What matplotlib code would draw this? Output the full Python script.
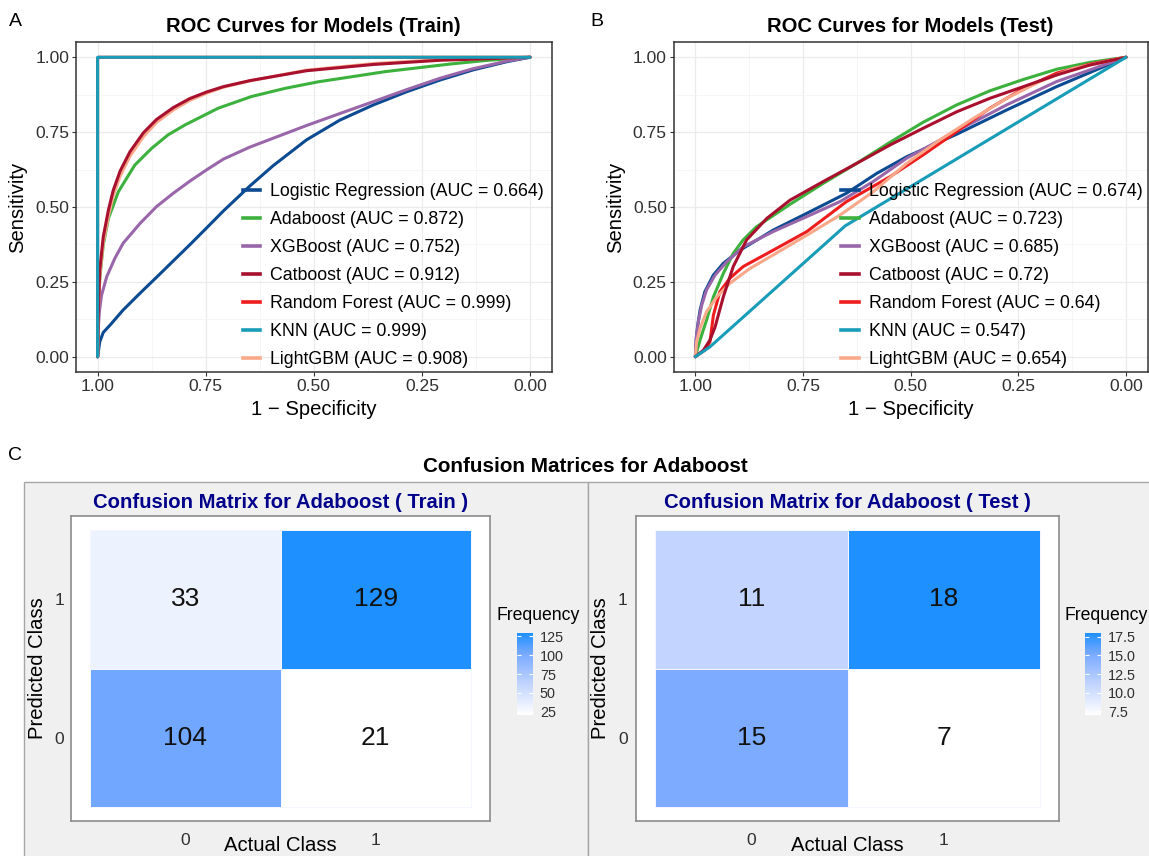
import numpy as np
import matplotlib; matplotlib.use("Agg")
import matplotlib.pyplot as plt
from matplotlib.colors import LinearSegmentedColormap, Normalize
from matplotlib.cm import ScalarMappable
from matplotlib.lines import Line2D
from matplotlib.patches import Rectangle

plt.rcParams.update({"font.family": ["Liberation Sans", "DejaVu Sans"],
    "axes.unicode_minus": True})

W, H = 1149, 856

MODELS = ["Logistic Regression", "Adaboost", "XGBoost", "Catboost",
          "Random Forest", "KNN", "LightGBM"]
COLORS = ["#0C4A92", "#3DB13D", "#9966AA", "#A8102E", "#EE1C1C", "#189CB8", "#F9A88A"]
TRAIN_AUC = [0.664, 0.872, 0.752, 0.912, 0.999, 0.999, 0.908]
TEST_AUC = [0.674, 0.723, 0.685, 0.72, 0.64, 0.547, 0.654]

# ROC points: specificity (axis reversed) and sensitivity
LR_TRAIN_SPEC = [1, 0.995, 0.987, 0.971, 0.941, 0.902, 0.864, 0.825, 0.786, 0.748,
                 0.709, 0.648, 0.594, 0.517, 0.440, 0.362, 0.285, 0.208, 0.131, 0.054, 0]
LR_TRAIN_SENS = [0, 0.050, 0.081, 0.106, 0.156, 0.212, 0.265, 0.320, 0.375, 0.430,
                 0.487, 0.570, 0.638, 0.724, 0.790, 0.841, 0.885, 0.924, 0.958, 0.985, 1]
XGB_TRAIN_SPEC = [1, 0.999, 0.996, 0.991, 0.979, 0.960, 0.941, 0.902, 0.864, 0.825,
                  0.786, 0.748, 0.709, 0.648, 0.517, 0.440, 0.362, 0.285, 0.208, 0.131,
                  0.054, 0]
XGB_TRAIN_SENS = [0, 0.084, 0.150, 0.205, 0.267, 0.329, 0.379, 0.445, 0.501, 0.546,
                  0.587, 0.624, 0.660, 0.700, 0.772, 0.812, 0.852, 0.892, 0.930, 0.962,
                  0.987, 1]
ADA_TRAIN_SPEC = [1, 0.998, 0.995, 0.987, 0.975, 0.952, 0.914, 0.875, 0.837, 0.798,
                  0.721, 0.644, 0.567, 0.490, 0.412, 0.335, 0.258, 0.181, 0.104, 0]
ADA_TRAIN_SENS = [0, 0.150, 0.262, 0.373, 0.462, 0.551, 0.640, 0.696, 0.741, 0.774,
                  0.830, 0.869, 0.896, 0.918, 0.935, 0.952, 0.965, 0.978, 0.989, 1]
CAT_TRAIN_SPEC = [1, 0.998, 0.995, 0.987, 0.975, 0.964, 0.948, 0.925, 0.894, 0.864,
                  0.825, 0.787, 0.748, 0.709, 0.648, 0.517, 0.362, 0.208, 0]
CAT_TRAIN_SENS = [0, 0.170, 0.290, 0.400, 0.490, 0.555, 0.620, 0.685, 0.748, 0.792,
                  0.832, 0.862, 0.884, 0.902, 0.922, 0.955, 0.976, 0.990, 1]
LGB_TRAIN_SENS = [0, 0.155, 0.270, 0.380, 0.470, 0.537, 0.603, 0.670, 0.735, 0.782,
                  0.824, 0.856, 0.880, 0.900, 0.921, 0.957, 0.979, 0.992, 1]
RF_TRAIN_SPEC = [1, 1, 0.997, 0]
RF_TRAIN_SENS = [0, 0.995, 1, 1]
KNN_TRAIN_SPEC = [1, 1, 0]
KNN_TRAIN_SENS = [0, 1, 1]

LR_TEST_SPEC = [1, 0.998, 0.995, 0.989, 0.978, 0.958, 0.935, 0.896, 0.819, 0.741,
                0.649, 0.579, 0.509, 0.393, 0.277, 0.161, 0]
LR_TEST_SENS = [0, 0.056, 0.100, 0.156, 0.217, 0.273, 0.312, 0.356, 0.423, 0.479,
                0.546, 0.612, 0.668, 0.743, 0.824, 0.902, 1]
XGB_TEST_SPEC = [1, 0.998, 0.993, 0.985, 0.974, 0.954, 0.927, 0.889, 0.819, 0.741,
                 0.664, 0.587, 0.509, 0.393, 0.277, 0.161, 0]
XGB_TEST_SENS = [0, 0.061, 0.117, 0.173, 0.223, 0.273, 0.317, 0.367, 0.418, 0.468,
                 0.518, 0.585, 0.663, 0.754, 0.841, 0.919, 1]
ADA_TEST_SPEC = [1, 0.989, 0.974, 0.958, 0.935, 0.912, 0.889, 0.858, 0.780, 0.703,
                 0.625, 0.548, 0.471, 0.393, 0.316, 0.238, 0.161, 0.084, 0]
ADA_TEST_SENS = [0, 0.056, 0.122, 0.200, 0.278, 0.345, 0.390, 0.434, 0.509, 0.579,
                 0.646, 0.716, 0.783, 0.841, 0.888, 0.926, 0.960, 0.983, 1]
CAT_TEST_SPEC = [1, 0.981, 0.966, 0.954, 0.935, 0.912, 0.881, 0.834, 0.780, 0.703,
                 0.625, 0.548, 0.471, 0.393, 0.316, 0.238, 0.161, 0.084, 0]
CAT_TEST_SENS = [0, 0.022, 0.056, 0.100, 0.200, 0.301, 0.390, 0.462, 0.523, 0.585,
                 0.646, 0.707, 0.763, 0.818, 0.863, 0.902, 0.941, 0.974, 1]
RF_TEST_SPEC = [1, 0.978, 0.966, 0.958, 0.943, 0.920, 0.889, 0.819, 0.741, 0.649,
                0.548, 0.471, 0.393, 0.316, 0.238, 0.161, 0.084, 0]
RF_TEST_SENS = [0, 0.022, 0.050, 0.139, 0.217, 0.262, 0.301, 0.356, 0.418, 0.518,
                0.601, 0.674, 0.752, 0.830, 0.896, 0.947, 0.977, 1]
KNN_TEST_SPEC = [1, 0.966, 0.652, 0]
KNN_TEST_SENS = [0, 0.033, 0.437, 1]
LGB_TEST_SPEC = [1, 0.997, 0.989, 0.974, 0.950, 0.920, 0.873, 0.819, 0.741, 0.664,
                 0.587, 0.509, 0.432, 0.354, 0.277, 0.200, 0.122, 0]
LGB_TEST_SENS = [0, 0.050, 0.095, 0.150, 0.200, 0.245, 0.295, 0.340, 0.406, 0.473,
                 0.551, 0.646, 0.724, 0.796, 0.863, 0.919, 0.963, 1]

# confusion matrices: rows = predicted class 0, 1; columns = actual class 0, 1
CLASSES = [0, 1]
TRAIN_COUNTS = [[104, 21], [33, 129]]
TEST_COUNTS = [[15, 7], [11, 18]]
TRAIN_CBAR_TICKS = [25, 50, 75, 100, 125]
TEST_CBAR_TICKS = [7.5, 10.0, 12.5, 15.0, 17.5]

TRAIN_CURVES = [(LR_TRAIN_SPEC, LR_TRAIN_SENS), (ADA_TRAIN_SPEC, ADA_TRAIN_SENS),
                (XGB_TRAIN_SPEC, XGB_TRAIN_SENS), (CAT_TRAIN_SPEC, CAT_TRAIN_SENS),
                (RF_TRAIN_SPEC, RF_TRAIN_SENS), (KNN_TRAIN_SPEC, KNN_TRAIN_SENS),
                (CAT_TRAIN_SPEC, LGB_TRAIN_SENS)]
TEST_CURVES = [(LR_TEST_SPEC, LR_TEST_SENS), (ADA_TEST_SPEC, ADA_TEST_SENS),
               (XGB_TEST_SPEC, XGB_TEST_SENS), (CAT_TEST_SPEC, CAT_TEST_SENS),
               (RF_TEST_SPEC, RF_TEST_SENS), (KNN_TEST_SPEC, KNN_TEST_SENS),
               (LGB_TEST_SPEC, LGB_TEST_SENS)]
ZORDER = [3, 3, 3, 4, 3, 5, 3]


def rect(left, top, right, bottom):
    """pixel box -> figure fraction [l, b, w, h]"""
    return [left / W, 1 - bottom / H, (right - left) / W, (bottom - top) / H]


fig = plt.figure(figsize=(W / 100, H / 100), dpi=100)


def roc_panel(box, curves, aucs, title, letter, letter_x, ylab_x, leg_x):
    ax = fig.add_axes(rect(*box))
    for (x, y), c, z in zip(curves, COLORS, ZORDER):
        ax.plot(x, y, color=c, lw=2.2, zorder=z, solid_capstyle="round",
                solid_joinstyle="round", snap=False)
    ax.set_xlim(1.05, -0.05); ax.set_ylim(-0.05, 1.05)
    t = [1.0, 0.75, 0.5, 0.25, 0.0]
    ax.set_xticks(t); ax.set_xticklabels([f"{v:.2f}" for v in t])
    ax.set_yticks(t); ax.set_yticklabels([f"{v:.2f}" for v in t])
    mt = [0.875, 0.625, 0.375, 0.125]
    ax.set_xticks(mt, minor=True); ax.set_yticks(mt, minor=True)
    ax.grid(which="major", color="#EBEBEB", lw=0.9, zorder=0)
    ax.grid(which="minor", color="#F3F3F3", lw=0.5, zorder=0)
    ax.set_axisbelow(True)
    ax.tick_params(which="major", length=3, width=0.8, color="#333333", pad=2,
                   labelsize=12.6, labelcolor="#303030")
    ax.tick_params(which="minor", length=0)
    for s in ax.spines.values():
        s.set_color("#333333"); s.set_linewidth(1.1)
    ax.set_title(title, fontsize=14.6, fontweight="bold", pad=7.5)
    ax.set_xlabel("1 \u2212 Specificity", fontsize=14.6)
    ax.set_ylabel("Sensitivity", fontsize=14.6)
    ax.xaxis.set_label_coords(0.5, -0.086)
    ax.yaxis.set_label_coords(ylab_x, 0.5)
    handles = [Line2D([], [], color=c, lw=2.6) for c in COLORS]
    labels = [f"{m} (AUC = {a})" for m, a in zip(MODELS, aucs)]
    ax.legend(handles, labels, loc="upper left", bbox_to_anchor=(leg_x, 0.572),
              frameon=False, fontsize=12.8, handlelength=0.96, handletextpad=0.56,
              labelspacing=0.617, borderpad=0, borderaxespad=0)
    fig.text(letter_x / W, 1 - 22 / H, letter, fontsize=14, ha="center", va="center")
    return ax


roc_panel((76, 42.3, 551.6, 371.7), TRAIN_CURVES, TRAIN_AUC,
          "ROC Curves for Models (Train)", "A", 15, -0.102, 0.351)
roc_panel((673.8, 42.3, 1147.5, 371.7), TEST_CURVES, TEST_AUC,
          "ROC Curves for Models (Test)", "B", 597, -0.104, 0.354)

# bottom block: grey plot backgrounds
for l, r in [(24, 588), (588, 1160)]:
    fig.add_artist(Rectangle((l / W, -0.01), (r - l) / W, (H - 482) / H + 0.01,
                             transform=fig.transFigure, facecolor="#F0F0F0",
                             edgecolor="#A6A6A6", lw=1.0, zorder=-1))
fig.text(15 / W, 1 - 456 / H, "C", fontsize=14, ha="center", va="center")
fig.text(585 / W, 1 - 466 / H, "Confusion Matrices for Adaboost", fontsize=14.9,
         fontweight="bold", ha="center", va="center")

cmap = LinearSegmentedColormap.from_list(
    "freq", [(0, "#FFFFFF"), (0.36, "#C4D6FF"), (0.75, "#78A9FF"), (1, "#1E90FF")])


def cm_panel(box, cbox, counts, ticks, title, ylab_x, ypad, freq_x):
    ax = fig.add_axes(rect(*box))
    z = np.array(counts)
    norm = Normalize(z.min(), z.max())
    edges = [-0.5, 0.5, 1.5]
    ax.pcolormesh(edges, edges, z, cmap=cmap, norm=norm, edgecolors="#F4F7FF", lw=0.5)
    for i in range(2):
        for j in range(2):
            ax.text(CLASSES[j], CLASSES[i], str(z[i, j]), fontsize=19,
                    ha="center", va="center", color="#111111")
    ax.set_xlim(-0.6, 1.6); ax.set_ylim(-0.6, 1.6)
    ax.set_xticks(CLASSES); ax.set_yticks(CLASSES)
    ax.tick_params(axis="x", length=0, pad=8.4, labelsize=12.6, labelcolor="#303030")
    ax.tick_params(axis="y", length=0, pad=ypad, labelsize=12.6, labelcolor="#303030")
    for s in ax.spines.values():
        s.set_color("#8C8C8C"); s.set_linewidth(1.2)
    ax.set_title(title, fontsize=14.6, fontweight="bold", color="#00008B", pad=6)
    ax.set_xlabel("Actual Class", fontsize=14.6)
    ax.set_ylabel("Predicted Class", fontsize=14.6)
    ax.xaxis.set_label_coords(0.5, -0.05)
    ax.yaxis.set_label_coords(ylab_x, 0.5)
    cax = fig.add_axes(rect(*cbox))
    cb = fig.colorbar(ScalarMappable(norm=norm, cmap=cmap), cax=cax)
    cb.outline.set_visible(False)
    cb.set_ticks(ticks)
    cax.tick_params(length=3, width=0.8, color="white", direction="in", left=True,
                    right=True, pad=5, labelsize=10.4, labelcolor="#303030")
    fig.text(freq_x / W, 1 - 620.5 / H, "Frequency", fontsize=12.7, ha="left",
             va="baseline")


cm_panel((71, 516, 490, 821), (517, 633, 533, 715), TRAIN_COUNTS, TRAIN_CBAR_TICKS,
         "Confusion Matrix for Adaboost ( Train )", -0.057, 4.8, 497)
cm_panel((636, 516, 1059, 821), (1085, 633, 1101, 715), TEST_COUNTS, TEST_CBAR_TICKS,
         "Confusion Matrix for Adaboost ( Test )", -0.061, 6.0, 1064)

fig.savefig("out.png", dpi=100)
